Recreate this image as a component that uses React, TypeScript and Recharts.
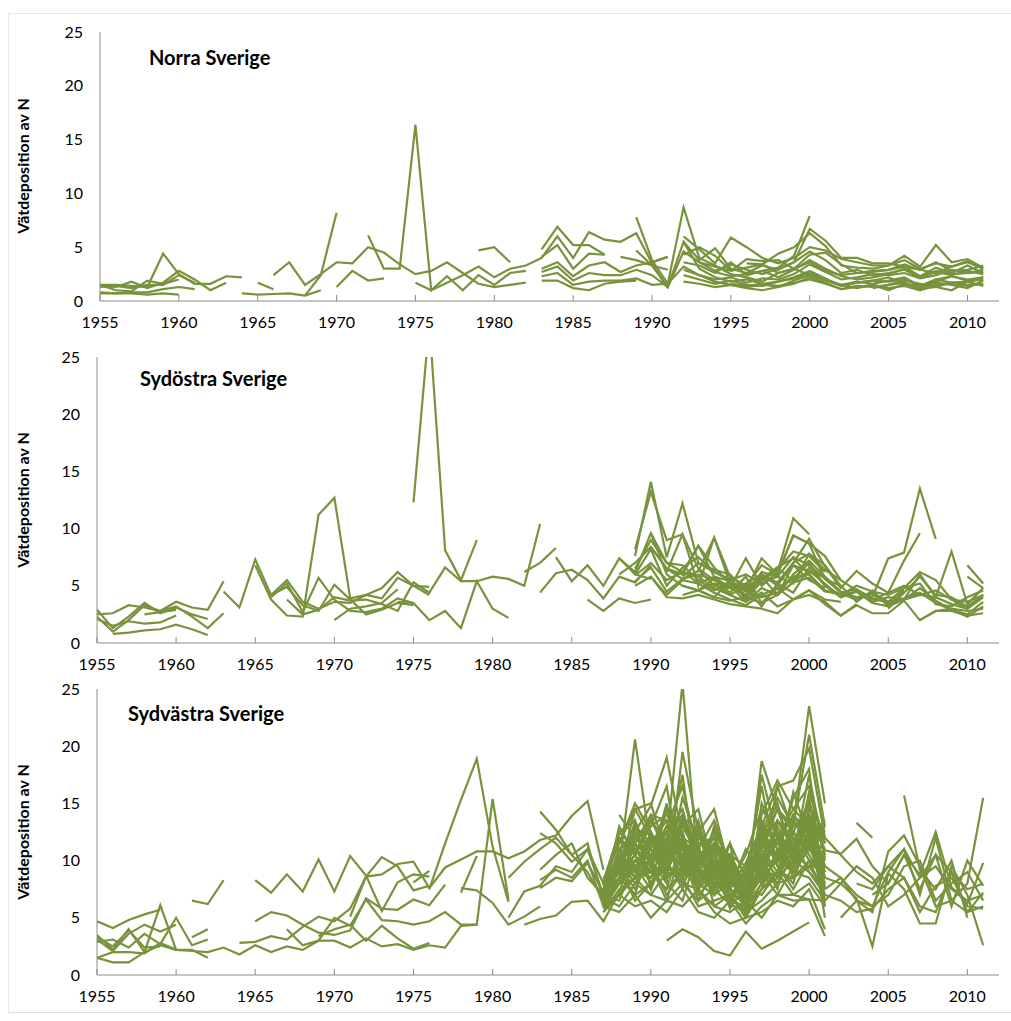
import React from "react";
import { LineChart, Line, XAxis, YAxis } from "recharts";

// each run: [first year, yearly values] (null = gap in the series)
type Run = [number, (number | null)[]];

const firstYear = 1955;
const lastYear = 2011;
const xTicks = [1955, 1960, 1965, 1970, 1975, 1980, 1985, 1990, 1995, 2000, 2005, 2010];
const yTicks = [0, 5, 10, 15, 20, 25];
const yLabel = "Vätdeposition av N";

const norraRuns: Run[] = [
  [1955, [1.5, 1.5, 1.4, 1.3, 4.4, 2.5, 1.6, 1.6, 2.3, 2.2]],
  [1955, [1.4, 1.3, 1.8, 1.2, 1.7, 2.8, 2.0, 1.0, 1.7]],
  [1955, [0.8, 0.7, 0.8, 0.8, 1.1, 1.3, 1.1]],
  [1955, [1.5, 1.0, 0.9, 1.9, 1.6, 2.0]],
  [1955, [0.7, 0.7, 0.7, 0.6, 0.7, 0.6]],
  [1955, [1.3, 1.4, 1.2, 1.5, 1.5, 2.4, 1.7]],
  [1964, [0.7, 0.6, 0.65, 0.7, 0.5, 1.0]],
  [1965, [1.7, 1.1]],
  [1966, [2.4, 3.6, 1.5, 2.5, 3.6, 3.5, 5.0, 4.5, 3.4, 2.5, 2.8, 3.6, 2.6, 1.6, 1.3, 1.5, 1.7]],
  [1968, [0.5, 2.4, 8.2]],
  [1970, [1.3, 2.8, 1.9, 2.1]],
  [1972, [6.1, 3.0, 3.0, 16.4, 1.0, 2.3, 1.0, 2.4, 1.5, 2.6, 2.8]],
  [1975, [1.7, 1.0, 1.7, 2.4, 3.2, 2.2, 3.0, 3.3, 4.0, 6.0, 4.0, 6.4, 5.7, 5.5, 6.3, 3.5, 1.2]],
  [1979, [4.7, 5.0, 3.6]],
  [1983, [4.8, 6.9, 5.2, 5.2, 4.3]],
  [1983, [4.1, 5.2, 3.0, 4.4, 4.3]],
  [1983, [3.0, 3.6, 2.3, 3.3, 3.6, 2.7, 3.3, 3.6, 4.1]],
  [1983, [2.7, 3.2, 1.9, 2.6, 2.4, 2.4, 2.9, 2.4, 1.3, 5.5, 3.0, 2.2, 1.8, 2.0, 1.6, 1.8, 2.1, 2.6, 2.0, 1.5, 1.8, 1.6, 1.9, 2.2, 1.4, 1.8, 2.3, 1.9, 2.2]],
  [1983, [2.3, 2.6, 1.5, 1.8, 1.9, 1.9, 2.1, 1.5, 1.6, 3.2, 2.4, 1.8, 1.5, 1.3, 1.5, 1.4, 1.7, 2.0, 1.6, 1.1, 1.4, 1.3, 1.5, 1.7, 1.1, 1.3, 1.7, 1.5, 1.6]],
  [1983, [1.9, 1.9, 1.2, 1.0, 1.6, 1.8, 1.9]],
  [1989, [7.8, 3.8, 1.6, 8.7, 4.0, 3.3, 2.5, 2.2, 1.8, 2.6, 3.0, 2.4, 1.9, 1.4, 1.7, 1.9, 2.2, 1.6, 1.4, 2.0, 1.7, 1.8, 2.0]],
  [1988, [4.1, 3.8, 3.3, 1.3, 4.6, 3.6, 2.8, 3.4, 2.9, 2.5, 3.0, 3.6, 4.6, 3.8, 2.6, 2.9, 2.4, 2.6, 2.9, 2.2, 2.8, 2.5, 2.6, 2.9]],
  [1989, [4.7, 3.3, 2.9]],
  [1990, [3.6, 4.1]],
  [1992, [6.0, 4.8, 3.5, 5.9, 5.0, 4.0, 3.5, 4.0, 5.0, 4.7, 3.9, 3.6, 3.3, 3.3, 3.8, 3.0, 3.5, 3.2, 3.7, 3.0]],
  [1992, [5.5, 3.8, 4.9, 3.0, 2.6, 3.3, 2.9, 3.6, 6.7, 5.6, 4.0, 4.0, 3.5, 3.5, 3.2, 2.9, 3.6, 2.8, 2.9, 3.3]],
  [1992, [4.3, 5.0, 4.2, 2.8, 3.1, 3.4, 4.4, 5.0, 6.3, 5.1, 3.3, 3.1, 3.0, 3.3, 4.2, 3.2, 5.2, 3.6, 3.9, 3.1]],
  [1992, [3.6, 3.3, 2.6, 3.6, 2.4, 2.8, 3.1, 4.2, 7.9]],
  [1992, [2.9, 2.4, 2.0, 2.2, 1.7, 2.1, 2.0, 2.5, 3.4, 2.7, 2.0, 2.2, 2.5, 2.4, 2.6, 2.1, 2.4, 2.9, 2.6, 2.7]],
  [1992, [2.4, 2.0, 1.6, 1.9, 1.5, 1.4, 1.8, 2.2, 2.8, 2.1, 1.4, 1.7, 1.9, 1.8, 2.0, 1.4, 2.0, 2.3, 2.0, 2.2]],
  [1992, [1.8, 1.6, 1.3, 1.5, 1.2, 1.0, 1.3, 1.6, 2.2, 1.7, 1.1, 1.3, 1.5, 1.2, 1.4, 1.0, 1.5, 1.7, 1.4, 1.6]],
  [1993, [3.6, 3.2, 2.8, 3.9, 3.7, 3.8, 3.0, 4.3, 4.5, 3.4, 2.6, 2.8, 2.9, 3.4, 2.9, 2.6, 3.2, 3.6, 3.0]],
  [1994, [2.7, 2.3, 2.5, 2.8, 2.2, 2.9, 3.8, 3.0, 2.3, 2.0, 2.2, 2.5, 3.0, 2.2, 2.7, 2.4, 2.8, 2.5]],
  [1995, [1.6, 1.4, 1.6, 1.3, 1.9, 2.4, 1.9, 1.5, 1.2, 1.5, 1.0, 1.6, 1.2, 1.7, 1.5, 1.2, 1.9]],
  [1996, [3.5, 3.4, 2.6, 3.0, 3.6, 2.8, 2.4, 2.6, 2.7, 2.9, 3.2, 2.3, 3.1, 2.6, 3.3, 2.6]],
  [2004, [1.2, 1.5, 1.9, 1.6, 1.3, 1.0, 1.8, 1.4]],
];

const sydostRuns: Run[] = [
  [1955, [2.5, 2.6, 3.3, 3.1, 2.8, 3.6, 3.1, 2.9, 5.4]],
  [1955, [2.9, 1.3, 2.3, 3.5, 2.6, 3.1, 2.5, 2.1]],
  [1955, [2.3, 1.0, 2.0, 3.3, 2.8, 3.2, 2.3, 1.3, 2.6]],
  [1955, [2.1, 1.5, 1.9, 1.7, 1.8, 2.4]],
  [1956, [0.8, 0.9, 1.1, 1.2, 1.6, 1.2, 0.7]],
  [1958, [2.5, 2.7, 2.9]],
  [1963, [4.5, 3.1, 7.3, 4.2, 5.5, 3.6, 3.0, 3.6, 3.5, 4.2, 4.8, 6.2, 5.0, 4.9]],
  [1965, [6.8, 3.8, 2.4, 2.3, 11.2, 12.7, 3.9, 4.2, 3.9, 5.7, 5.0, 4.2]],
  [1966, [4.0, 5.2, 2.7, 5.7, 3.8, 2.8, 2.7, 3.0, 3.9, 3.5]],
  [1967, [3.8, 2.5, 2.9, 4.0, 3.7, 3.8, 3.4, 2.8, 5.3, 4.4, 6.6, 5.4, 5.4, 5.8, 5.6, 5.0, 10.4]],
  [1966, [4.2, 4.9, 3.3, 2.8, 5.1, 3.8, 2.5, 2.9, 3.5, 3.3]],
  [1970, [2.0, 3.0, 3.2, 3.5, 4.7]],
  [1975, [12.3, 28, 8.1, 5.5, 9.0]],
  [1974, [3.6, 3.5, 2.0, 2.8, 1.3, 5.4, 3.0, 2.2]],
  [1982, [6.2, 7.0, 8.3]],
  [1983, [4.4, 6.1, 6.4, 5.5, 3.9, 5.8, 5.3, 6.8]],
  [1984, [7.5, 5.4, 6.8, 5.0, 7.4, 6.0, 5.6]],
  [1986, [3.8, 2.8, 3.9, 3.5, 3.8]],
  [1989, [7.6, 14.1, 7.5, 12.2, 7.0, 6.2, 5.5, 6.0, 5.2, 5.8, 7.5, 6.8, 5.6, 4.4, 4.7, 3.8, 4.4, 5.0, 4.2, 4.6, 3.8, 3.0, 4.2]],
  [1989, [8.2, 13.2, 9.0, 9.5, 6.5, 5.5, 4.8, 7.4, 5.0, 6.2, 10.9, 9.5]],
  [1988, [7.4, 6.2, 9.6, 7.0, 6.2, 8.5, 5.8, 5.4, 4.6, 7.4, 6.0, 9.4, 8.7, 7.6, 5.5, 4.6, 4.0, 7.4, 7.9, 13.5, 9.1]],
  [1988, [6.0, 7.0, 8.4, 6.5, 5.6, 6.3, 9.2, 5.2, 4.5, 5.8, 5.3, 7.0, 9.1, 6.7, 4.8, 6.3, 5.2, 4.4, 7.2, 9.6]],
  [1989, [6.5, 9.0, 7.0, 6.8, 5.5, 4.6, 5.4, 4.0, 5.8, 4.2, 6.0, 7.2, 5.8, 4.5, 4.0, 4.3, 3.4, 3.8, 6.0, 4.0, 8.0, 3.4, 4.8]],
  [1989, [5.9, 7.0, 5.5, 6.2, 5.8, 4.8, 4.2, 5.0, 5.6, 6.6, 7.4, 6.0, 4.5]],
  [1989, [5.4, 6.6, 4.5, 5.6, 6.0, 5.5, 5.0, 4.6, 6.0, 5.2, 6.8, 6.3, 5.2, 4.0, 4.5, 3.8, 3.6, 3.9, 4.4, 3.5, 2.9, 2.5, 3.6]],
  [1990, [5.8, 4.2, 5.5, 5.2, 4.4, 3.8, 3.3, 4.2, 4.8, 5.6, 7.0, 5.0, 4.2, 4.5, 3.5, 3.2, 3.8, 4.8, 3.7, 2.9, 2.3, 3.2]],
  [1989, [6.0, 8.2, 5.0, 6.6, 7.5, 6.2, 5.6, 3.8, 5.4, 6.4, 8.0, 7.6, 6.2]],
  [1990, [9.6, 6.0, 5.0, 4.6, 5.6, 4.4, 5.8, 3.5, 4.2, 6.8, 5.5, 4.8]],
  [1989, [5.0, 5.8, 4.0, 3.9, 4.2, 3.8, 3.4, 3.2, 3.0, 2.6, 3.8, 4.2, 3.6, 2.4, 3.3, 2.6, 2.6, 3.7, 2.0, 2.8, 2.8, 2.4, 2.6]],
  [1990, [8.4, 6.5, 6.0, 8.5, 6.6, 5.2, 4.2, 6.2, 5.8, 5.2, 7.8, 6.8, 5.0, 3.6, 4.6, 3.2, 4.6]],
  [1991, [6.2, 9.5, 5.0, 9.2, 5.8, 5.0, 6.8, 6.0, 9.4, 8.7, 5.6, 5.0]],
  [1992, [5.8, 7.0, 6.4, 6.0, 4.6, 4.0, 4.4, 5.8, 6.0, 4.6, 4.2, 5.0, 4.5, 4.2, 4.8, 5.2, 3.4, 3.2, 4.0, 4.6]],
  [1992, [6.3, 5.2, 5.8, 4.8, 5.2, 6.0, 5.0, 7.0, 7.8, 6.4, 5.5]],
  [1992, [5.0, 4.6, 4.0, 5.4, 4.8, 3.2, 5.2, 4.4, 6.6, 5.0, 4.0, 4.5, 3.6, 4.0, 3.8, 4.2, 4.0, 3.4, 3.0, 4.0]],
  [1993, [6.4, 5.0, 4.8, 4.2, 5.6, 6.6, 5.4, 6.2, 5.8]],
  [1993, [4.6, 4.0, 3.7, 4.0, 3.5, 4.8, 3.8, 4.6, 3.4, 2.4, 3.4]],
  [1992, [4.2, 4.6, 5.2, 4.2, 3.6, 4.4, 3.2, 3.8, 4.6, 3.8, 3.6]],
  [1994, [5.2, 5.0, 3.6, 4.8, 4.2, 5.3, 5.7, 4.5, 4.3, 3.8, 4.4, 3.6, 4.8, 6.2, 5.5, 3.8, 3.6, 4.2]],
  [2005, [3.0, 4.4, 5.8, 4.2, 4.0, 3.2, 4.2]],
  [2007, [2.0, 2.8, 3.0, 2.8, 3.0]],
  [2010, [6.8, 5.2]],
  [2010, [5.8, 4.8]],
];

const sydvastRuns: Run[] = [
  [1955, [4.7, 4.1, 4.8, 5.3, 5.7]],
  [1955, [3.5, 2.2, 4.0, 2.0, 6.1, 2.2, 2.2, 1.5]],
  [1955, [3.1, 2.1, 3.6, 4.4, 3.8, 4.4]],
  [1955, [2.9, 3.1, 2.4, 3.6, 2.7, 5.0, 2.6, 3.1]],
  [1955, [1.5, 1.1, 1.1, 2.0, 2.6, 2.2]],
  [1955, [3.3, 2.5, 3.9, 2.4, 2.5]],
  [1955, [1.5, 2.0, 2.0, 1.9, 2.8, 2.2, 2.1, 2.0, 2.4, 1.8, 2.6, 2.0, 2.5, 2.2, 3.0, 3.0, 2.4, 3.2, 2.5, 2.7, 2.2, 2.6, 2.4, 4.3, 4.4, 15.4, 6.6]],
  [1961, [6.5, 6.2, 8.3]],
  [1961, [3.3, 4.0]],
  [1965, [8.3, 7.2, 8.8, 7.3, 10.1, 7.3, 10.4, 8.7, 5.6, 8.1, 8.8, 8.6]],
  [1964, [2.8, 2.9, 3.4, 3.1, 4.2, 5.1, 4.7, 5.8, 8.6, 8.8, 9.7, 9.9, 7.6, 9.4, 10.1, 10.8, 10.8, 10.2, 10.8, 11.8, 12.2, 13.9, 15.2, 9.2]],
  [1965, [4.7, 5.5, 5.2, 4.4, 3.7, 3.5, 3.9, 6.7, 5.8, 5.7, 6.6, 6.1, 7.9]],
  [1967, [4.0, 2.6, 3.0, 5.0, 4.3, 6.6, 4.8, 4.7, 4.4, 4.7, 5.5, 4.4, 4.4]],
  [1969, [3.4, 4.0, 4.4, 3.0, 4.3, 3.2, 2.3, 2.8]],
  [1971, [5.1, 8.6, 10.3, 9.5, 7.4, 7.8]],
  [1975, [8.1, 9.1]],
  [1976, [7.5, 11.5, 15.3, 18.9, 11.2, 6.4]],
  [1978, [7.6, 7.4, 6.3, 4.4, 5.1, 6.0]],
  [1978, [7.2, 10.4]],
  [1981, [8.5, 9.9, 11.0, 12.0, 10.5, 11.5, 6.5]],
  [1981, [5.0, 7.3, 7.8, 9.5, 9.0, 11.0, 7.0]],
  [1983, [14.3, 12.7, 10.5, 9.0, 6.5, 9.5, 12.0, 10.5, 13.0, 11.0, 8.0, 10.5, 7.5, 6.0, 9.0, 12.0, 8.5, 11.5, 7.8]],
  [1983, [9.2, 10.5, 11.5, 8.5, 7.0, 11.0, 8.5, 12.5, 9.5, 8.5, 10.0, 12.5, 8.0, 7.5, 13.0, 10.0, 9.0, 12.0, 6.5]],
  [1983, [8.3, 9.2, 8.5, 10.0, 6.0, 8.0, 10.0, 9.0, 7.5, 9.0, 12.5, 8.0, 9.5, 6.5, 8.5, 9.0, 11.0, 13.0, 8.5]],
  [1983, [12.4, 11.5, 9.9, 11.0, 8.0, 12.0, 9.5, 11.0, 14.5, 12.0, 9.0, 11.5, 10.0, 8.0, 11.5, 14.5, 12.5, 10.0, 9.8]],
  [1983, [7.6, 8.5, 8.2, 9.8, 7.2, 10.0, 11.5, 8.0, 10.5, 13.0, 10.5, 9.5, 8.5, 5.8, 10.0, 8.0, 10.5, 14.0, 12.0]],
  [1982, [4.4, 4.9, 5.2, 6.4, 6.5, 4.7, 7.2, 8.5, 7.0, 6.5, 8.0, 7.5, 6.0, 7.0, 6.5, 5.0, 7.0, 6.5, 6.6, 3.4]],
  [1987, [7.2, 9.5, 20.6, 11.0, 9.0, 13.5, 10.2, 8.0, 7.5, 6.8, 12.5, 10.0, 11.5, 14.0, 9.5]],
  [1987, [6.5, 11.0, 12.5, 14.8, 19.0, 12.0, 9.5, 11.2, 8.5, 7.0, 18.7, 14.5, 13.0, 23.5, 15.0]],
  [1987, [7.8, 10.5, 9.0, 12.0, 11.5, 25.5, 9.0, 7.8, 10.5, 6.5, 9.5, 16.5, 17.0, 19.8, 12.0]],
  [1987, [6.0, 8.5, 13.5, 10.0, 8.0, 19.5, 12.5, 9.5, 6.8, 5.5, 15.0, 12.0, 10.5, 17.5, 10.2]],
  [1987, [8.2, 12.5, 11.0, 9.0, 14.5, 11.0, 8.5, 13.0, 9.5, 8.0, 11.0, 9.0, 14.0, 12.5, 8.5]],
  [1987, [7.0, 9.0, 14.5, 15.0, 10.5, 9.5, 13.5, 8.8, 7.5, 9.8, 13.0, 11.5, 9.5, 16.0, 11.5]],
  [1987, [5.5, 7.5, 8.5, 11.5, 12.5, 10.5, 7.5, 10.0, 8.0, 7.2, 9.5, 13.5, 12.0, 11.0, 9.0]],
  [1987, [6.8, 13.0, 10.5, 8.0, 9.5, 14.0, 11.0, 7.0, 9.0, 6.0, 10.5, 8.5, 11.0, 15.5, 7.5]],
  [1987, [7.5, 8.0, 12.0, 13.0, 16.5, 8.5, 10.0, 12.0, 7.0, 8.5, 16.5, 9.5, 8.0, 13.0, 10.0]],
  [1987, [6.2, 10.0, 9.5, 7.5, 11.0, 13.0, 14.5, 9.0, 10.5, 5.8, 8.0, 10.5, 15.5, 18.0, 6.0]],
  [1987, [8.0, 11.5, 15.0, 12.5, 8.5, 10.0, 8.0, 11.0, 6.5, 9.0, 12.0, 15.0, 10.0, 12.0, 13.5]],
  [1987, [6.5, 9.5, 7.5, 10.5, 13.0, 16.5, 10.5, 8.0, 8.5, 7.5, 7.0, 9.0, 12.5, 10.5, 8.0]],
  [1987, [7.0, 6.5, 10.0, 9.0, 7.5, 12.0, 9.0, 7.5, 11.5, 5.0, 13.5, 11.0, 9.5, 14.5, 12.5]],
  [1987, [5.8, 8.0, 11.5, 14.0, 10.0, 7.5, 12.0, 10.5, 7.8, 8.0, 10.0, 7.5, 13.5, 11.5, 7.0]],
  [1987, [7.8, 12.0, 9.0, 8.5, 12.0, 10.5, 6.5, 9.5, 8.0, 10.5, 14.5, 12.5, 8.5, 9.5, 11.0]],
  [1987, [6.0, 7.0, 13.0, 11.0, 9.0, 15.5, 11.5, 6.0, 5.5, 6.5, 9.0, 8.0, 10.5, 13.5, 5.0]],
  [1987, [8.5, 10.0, 8.0, 10.0, 15.0, 9.0, 12.5, 14.5, 9.0, 7.0, 11.5, 10.0, 16.0, 12.0, 9.5]],
  [1987, [7.2, 11.0, 12.5, 9.5, 6.5, 11.5, 8.0, 7.0, 9.5, 8.5, 8.5, 13.5, 11.0, 15.0, 10.5]],
  [1987, [6.5, 8.5, 10.5, 13.5, 11.5, 8.0, 10.0, 9.0, 6.0, 9.5, 12.5, 9.5, 7.5, 10.0, 8.5]],
  [1987, [7.5, 9.5, 6.5, 8.0, 10.5, 12.5, 7.0, 8.5, 8.5, 6.0, 7.5, 11.0, 9.0, 8.5, 6.5]],
  [1987, [6.8, 6.0, 8.0, 7.0, 9.0, 8.5, 6.0, 6.5, 7.0, 5.5, 6.5, 8.0, 8.5, 9.5, 7.5]],
  [1987, [5.5, 7.0, 6.0, 6.5, 5.5, 7.5, 5.5, 5.0, 6.5, 4.5, 6.0, 7.0, 7.0, 8.0, 6.0]],
  [1987, [null, 14.0, 12.0, 10.5, 12.5, 14.5, 9.5, 12.5, 10.0, 7.5, 17.5, 12.0, 10.0, 11.5]],
  [1987, [8.0, 9.0, 7.0, 12.0, 8.0, 6.5, 11.0, 8.0, 7.5, 11.0, 9.0, 7.0, 9.5, 12.5, 9.0]],
  [1987, [6.0, 5.5, 7.0, 5.0, 6.5, 6.0, 7.5, 5.5, 4.5, 5.0, 5.5, 6.5, 6.0, 7.5, 4.0]],
  [1987, [7.0, 10.5, 11.0, 11.5, 13.5, 10.0, 13.0, 7.5, 9.0, 6.5, 14.0, 17.0, 14.5, 16.5, 11.5]],
  [1987, [6.3, 8.0, 9.5, 10.0, 7.0, 9.0, 8.5, 10.0, 5.8, 7.8, 10.5, 8.5, 12.0, 9.0, 7.0]],
  [1987, [7.5, 12.5, 13.5, 7.5, 11.0, 17.5, 7.5, 9.0, 10.0, 7.0, 12.0, 10.0, 13.0, 21.0, 13.0]],
  [1988, [10.5, 12.0, 13.5, 11.0, 9.5, 12.5, 10.0, 8.0, 9.0, 10.5, 12.0, 14.5, 13.0, 9.0]],
  [1988, [11.5, 14.5, 12.0, 9.0, 12.0, 11.0, 13.5, 9.5, 7.5, 9.0, 10.5, 12.5, 15.0, 10.5]],
  [1988, [9.5, 13.0, 11.5, 12.5, 14.0, 9.0, 11.5, 10.5, 8.0, 11.5, 13.5, 11.0, 12.0, 8.0]],
  [1988, [12.0, 10.5, 14.0, 13.5, 10.0, 13.0, 9.0, 11.5, 8.5, 12.5, 15.5, 13.0, 14.0, 11.0]],
  [1988, [8.5, 11.5, 10.0, 12.0, 10.5, 11.5, 12.0, 9.0, 6.5, 10.0, 11.5, 14.0, 11.5, 12.0]],
  [1988, [10.0, 9.0, 12.5, 10.0, 13.0, 10.5, 8.5, 10.5, 9.5, 8.0, 13.0, 10.0, 13.5, 9.5]],
  [1988, [11.0, 12.5, 9.5, 11.5, 8.5, 12.0, 10.5, 8.5, 7.0, 13.0, 16.5, 12.5, 11.0, 13.0]],
  [1989, [10.5, 13.0, 14.0, 11.5, 10.0, 11.5, 9.0, 7.5, 11.0, 14.5, 10.5, 12.5, 10.0]],
  [1988, [7.0, 8.5, 9.0, 11.0, 12.0, 9.5, 8.0, 7.0, 5.0, 7.5, 8.5, 10.0, 9.0, 7.5]],
  [1988, [9.0, 10.0, 11.0, 8.5, 9.5, 10.5, 11.5, 10.0, 6.5, 9.5, 12.0, 9.0, 11.0, 10.0]],
  [1991, [3.0, 4.0, 3.3, 2.1, 1.7, 3.8, 2.3, 3.0, 3.8, 4.6]],
  [1987, [6.5, 10.0, 8.5, 9.5, 11.5, 12.5, 8.0, 9.5, 7.5, 6.0, 9.0, 10.5, 9.5, 12.0, 10.9, 10.6, 11.9, 9.5, 8.0, 10.5, 8.8, 12.5, 7.7, 6.2, 9.8]],
  [1987, [7.2, 8.5, 7.0, 8.0, 9.5, 8.0, 6.5, 7.5, 6.2, 5.5, 7.5, 9.0, 7.0, 6.6, 6.5, 8.0, 6.7, 2.5, 8.9, 7.5, 4.5, 4.5, 9.5, 7.0, 2.6]],
  [1988, [9.0, 11.0, 10.0, 12.5, 9.5, 7.5, 10.0, 8.0, 7.0, 8.5, 10.0, 11.5, 13.5, 8.5, 8.0, 9.5, 8.5, 6.0, 7.0, 8.5, 9.5, 7.5, 6.5, 7.0]],
  [1988, [8.0, 9.5, 8.5, 10.5, 11.0, 9.0, 8.5, 6.5, 6.0, 8.0, 9.0, 8.5, 10.0, 7.0, 6.5, 5.5, 5.8, 7.5, 8.5, 5.5, 7.8, 8.5, 6.0, 5.8]],
  [1987, [7.0, 9.0, 10.5, 8.0, 10.0, 11.5, 9.5, 7.0, 8.0, 9.0, 11.0, 12.5, 10.5, 9.5, 9.5, 8.5, 7.0, 6.0, 9.0, 11.0, 7.0, 12.0, 6.5, 8.0, 15.5]],
  [2001, [12.0, 10.5, 9.0, 8.0, 9.5, 11.0, 8.5, 10.5, 9.0, 7.5, 8.0]],
  [2001, [7.5, 8.5, 6.5, 6.0, 7.0, 9.5, 10.0, 6.5, 8.0, 9.0, 6.5]],
  [2002, [5.0, 6.5, 5.5, 10.8, 12.2, 9.5, 6.0, 6.5, 5.5, 7.2]],
  [2003, [13.3, 12.0]],
  [2003, [8.0, 7.5, 9.5, 8.5, 6.0, 5.5, 9.0, 5.5, 6.0]],
  [2004, [7.0, 8.0, 10.5, 7.5, 10.5, 6.0, 10.0, 7.8]],
  [2006, [15.7, 9.2, 7.5, 10.0, 5.0]],
];

const LINE = "#77933C";
const AXIS = "#8c8c8c";
const FONT = "Lato, 'Open Sans', sans-serif";

function toRows(runs: Run[]) {
  const rows: Record<string, number | null>[] = [];
  for (let year = firstYear; year <= lastYear; year++) {
    const row: Record<string, number | null> = { year };
    runs.forEach(([start, vals], k) => {
      const i = year - start;
      const v = i >= 0 && i < vals.length ? vals[i] : null;
      row["s" + k] = v ?? null;
    });
    rows.push(row);
  }
  return rows;
}

type PanelProps = {
  runs: Run[];
  top: number;
  height: number;
  marginTop: number;
  axisX: number;
};

const Panel: React.FC<PanelProps> = ({ runs, top, height, marginTop, axisX }) => {
  const rows = toRows(runs);
  return (
    <div style={{ position: "absolute", left: 0, top, width: 1011, height }}>
      <LineChart
        width={1011}
        height={height}
        data={rows}
        margin={{ top: marginTop, right: 12, bottom: 4, left: 0 }}
      >
        <XAxis
          dataKey="year"
          type="number"
          domain={[1955, 2012]}
          ticks={xTicks}
          interval={0}
          allowDataOverflow
          height={30}
          stroke={AXIS}
          tickSize={-6}
          tickMargin={22}
          tick={{ fill: "#000", fontSize: 16 }}
        />
        <YAxis
          domain={[0, 25]}
          ticks={yTicks}
          interval={0}
          allowDataOverflow
          width={axisX}
          stroke={AXIS}
          tickLine={false}
          tickSize={0}
          tickMargin={17}
          tick={{ fill: "#000", fontSize: 16 }}
        />
        {runs.map((_, k) => (
          <Line
            key={k}
            dataKey={"s" + k}
            stroke={LINE}
            strokeWidth={2.2}
            dot={false}
            activeDot={false}
            isAnimationActive={false}
          />
        ))}
      </LineChart>
    </div>
  );
};

const titleStyle: React.CSSProperties = {
  position: "absolute",
  fontWeight: 700,
  fontSize: 20,
  lineHeight: "24px",
  whiteSpace: "nowrap",
  color: "#000",
};

const axisTitle = (centerY: number) => (
  <div
    style={{
      position: "absolute",
      left: 22,
      top: centerY,
      transform: "translate(-50%, -50%) rotate(-90deg)",
      fontWeight: 700,
      fontSize: 16,
      whiteSpace: "nowrap",
      color: "#000",
    }}
  >
    {yLabel}
  </div>
);

export default function App() {
  return (
    <div
      style={{
        position: "absolute",
        left: 0,
        top: 0,
        width: 1011,
        height: 1021,
        background: "#fff",
        fontFamily: FONT,
        overflow: "hidden",
      }}
    >
      {/* faint sheet frame */}
      <div style={{ position: "absolute", left: 8, top: 13, width: 1003, height: 0, borderTop: "1px solid #e8e8e8" }} />
      <div style={{ position: "absolute", left: 8, top: 13, width: 0, height: 999, borderLeft: "1px solid #e8e8e8" }} />
      <div style={{ position: "absolute", left: 8, top: 1012, width: 1003, height: 0, borderTop: "1px solid #e0e0e0" }} />

      <Panel runs={norraRuns} top={0} height={335} marginTop={32} axisX={100} />
      <Panel runs={sydostRuns} top={335} height={342} marginTop={22} axisX={97} />
      <Panel runs={sydvastRuns} top={677} height={332} marginTop={12} axisX={97} />

      <div style={{ ...titleStyle, left: 149, top: 45 }}>Norra Sverige</div>
      <div style={{ ...titleStyle, left: 140, top: 366 }}>Sydöstra Sverige</div>
      <div style={{ ...titleStyle, left: 128, top: 701 }}>Sydvästra Sverige</div>

      {axisTitle(166)}
      {axisTitle(500)}
      {axisTitle(832)}
    </div>
  );
}
